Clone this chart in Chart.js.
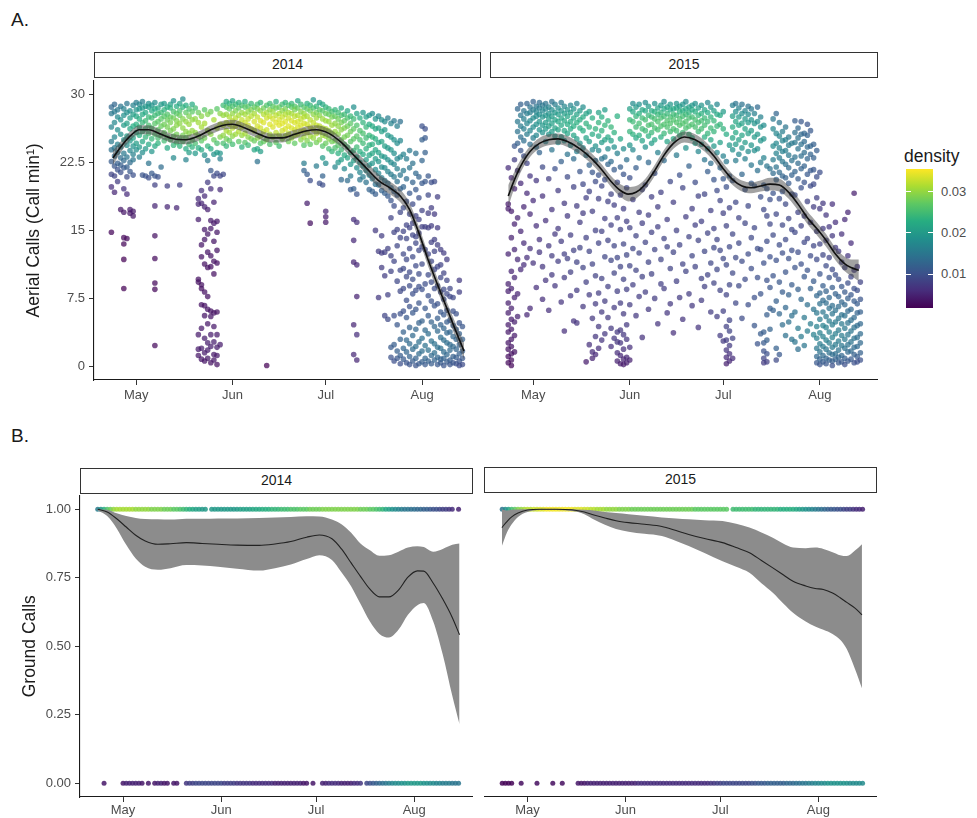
<!DOCTYPE html>
<html>
<head>
<meta charset="utf-8">
<script src="https://cdn.jsdelivr.net/npm/chart.js@4/dist/chart.umd.min.js"></script>
<style>
  body { margin: 0; background: #fff; font-family: 'Liberation Sans', Arial, sans-serif; }
  #page { position: relative; width: 977px; height: 818px; overflow: hidden; }
  .abs { position: absolute; }
  .strip { position: absolute; box-sizing: border-box; border: 1.5px solid #333; background: #fff;
           font-size: 14px; color: #1a1a1a; text-align: center; }
  .tag { position: absolute; font-size: 19px; color: #1a1a1a; }
</style>
</head>
<body>
<div id="page">
  <div class="tag" style="left:11px; top:9px;">A.</div>
  <div class="tag" style="left:11px; top:425px;">B.</div>

  <div class="strip" style="left:94px; top:52px; width:387px; height:26px; line-height:23px;">2014</div>
  <div class="strip" style="left:490px; top:52px; width:388px; height:26px; line-height:23px;">2015</div>
  <div class="strip" style="left:80px; top:468px; width:393px; height:26px; line-height:23px;">2014</div>
  <div class="strip" style="left:484px; top:467px; width:393px; height:26px; line-height:23px;">2015</div>

  <canvas id="a14" class="abs" width="482" height="332" style="left:0; top:78px;"></canvas>
  <canvas id="a15" class="abs" width="392" height="332" style="left:488px; top:78px;"></canvas>
  <canvas id="b14" class="abs" width="475" height="325" style="left:0; top:493px;"></canvas>
  <canvas id="b15" class="abs" width="397" height="325" style="left:482px; top:493px;"></canvas>

  <div id="legend"></div>
</div>
<script>
// ---- axes ----
const monthTicks = [0, 31, 61, 92];          // days after 1 May
const monthLabels = ['May', 'Jun', 'Jul', 'Aug'];
const aerialTicks = [0, 7.5, 15, 22.5, 30];
const groundTicks = [0, 0.25, 0.5, 0.75, 1];
const densityTicks = [0.01, 0.02, 0.03];
const densityLimits = [0.0018, 0.0355];
const peakDensity2014 = 0.034;               // brightest colour in the 2014 aerial panel
const peakDensity2015 = 0.026;               // brightest colour in the 2015 aerial panel

// ---- aerial calls: [day, calls, calls, ...] ----
const aerial2014 = [
  [-8, 28.6, 27.9, 26.4, 24.8, 23.9, 22.6, 21.2, 19.8, 14.8],
  [-7, 28.9, 28.1, 26.9, 25.3, 24.1, 23.2, 22.1, 21.0, 19.2],
  [-6, 28.3, 27.5, 26.1, 24.5, 23.6, 22.4, 21.7, 20.4],
  [-5, 28.7, 27.2, 25.6, 24.2, 23.0, 22.2, 21.4, 17.3],
  [-4, 28.4, 27.7, 26.6, 25.0, 23.5, 22.7, 21.9, 19.6, 17.0, 14.2, 13.5, 11.8, 8.6],
  [-3, 29.0, 28.0, 26.8, 25.4, 24.4, 23.1, 22.0, 20.9, 19.0, 14.1],
  [-2, 28.2, 27.4, 26.2, 24.9, 23.8, 22.5, 21.5, 17.3, 16.9],
  [-1, 28.8, 27.8, 26.5, 25.2, 24.3, 23.4, 22.8, 21.1, 17.1, 16.6],
  [0, 29.1, 28.3, 27.6, 26.7, 25.8, 24.6, 23.9],
  [1, 28.9, 28.4, 27.3, 26.4, 25.5, 24.2, 23.1],
  [2, 29.2, 28.5, 27.8, 26.9, 25.9, 24.8, 23.6, 21.1],
  [3, 28.7, 28.0, 27.1, 26.2, 25.3, 24.0, 21.0],
  [4, 29.0, 28.6, 27.5, 26.6, 25.7, 24.5, 22.4, 20.8],
  [5, 28.8, 28.2, 27.4, 26.3, 25.1, 23.7, 21.3],
  [6, 29.1, 28.4, 27.7, 26.8, 25.6, 24.3, 21.0, 20.0, 17.7, 14.4, 11.9, 9.2, 8.5, 2.3],
  [7, 28.5, 27.9, 27.0, 26.1, 25.2, 24.6, 20.9],
  [8, 28.9, 28.0, 27.3, 26.5, 25.5, 22.0],
  [9, 29.0, 28.3, 27.6, 26.7, 25.8, 24.9],
  [10, 28.6, 27.8, 27.2, 26.4, 25.3, 24.1, 19.9, 17.6],
  [11, 28.9, 28.5, 27.5, 26.9, 26.0, 25.0],
  [12, 29.3, 28.1, 27.4, 26.2, 25.4, 24.4, 23.0],
  [13, 28.7, 27.9, 27.1, 26.6, 25.6, 24.7, 17.5],
  [14, 29.0, 28.2, 27.7, 26.8, 25.1, 24.3, 20.0],
  [15, 29.5, 28.6, 27.3, 26.3, 25.5, 24.8],
  [16, 28.8, 28.0, 27.0, 25.9, 25.2, 24.0, 22.8],
  [17, 28.4, 27.6, 26.7, 25.7, 24.5, 23.6],
  [18, 28.9, 28.1, 27.2, 26.0, 25.0, 24.2],
  [19, 28.5, 27.3, 25.8, 24.6, 23.5],
  [20, 28.0, 26.9, 25.4, 24.1, 18.5, 17.9, 16.2, 9.6, 9.3, 3.5, 1.9, 1.2],
  [21, 27.6, 26.4, 24.9, 23.9, 19.4, 18.0, 13.4, 12.1, 9.0, 8.6, 6.8, 4.2, 2.0, 0.8],
  [22, 28.3, 26.8, 25.2, 23.3, 18.8, 17.6, 15.1, 14.0, 11.3, 8.2, 6.7, 5.6, 3.1, 1.5, 0.6],
  [23, 27.8, 26.0, 24.3, 22.7, 20.3, 17.3, 14.6, 12.6, 10.9, 7.7, 6.3, 4.7, 2.6, 1.8, 0.9],
  [24, 28.1, 25.6, 24.0, 21.6, 19.6, 16.1, 15.2, 12.2, 11.0, 6.1, 5.5, 3.5, 2.2, 0.4],
  [25, 27.2, 25.0, 23.4, 21.0, 18.1, 15.8, 13.8, 11.6, 10.2, 5.9, 4.4, 2.7, 1.3, 0.7],
  [26, 28.4, 26.3, 24.6, 23.6, 21.3, 16.0, 14.8, 12.8, 11.4, 6.0, 3.5, 2.1, 1.2, 0.2],
  [27, 27.9, 26.7, 25.3, 23.5, 22.9, 21.0, 19.5, 2.4],
  [28, 28.8, 27.7, 26.6, 25.5, 24.6, 21.2],
  [29, 29.2, 28.6, 27.8, 26.9, 26.0, 25.1, 24.3],
  [30, 29.0, 28.4, 27.5, 26.7, 25.8, 24.9],
  [31, 29.3, 28.7, 27.9, 27.1, 26.3, 25.4, 24.5],
  [32, 28.9, 28.2, 27.4, 26.5, 25.6],
  [33, 29.1, 28.5, 27.7, 26.8, 25.9, 24.8],
  [34, 28.8, 28.0, 27.2, 26.4, 25.5, 24.2],
  [35, 29.2, 28.6, 27.8, 26.9, 25.7, 24.7],
  [36, 28.7, 28.1, 27.3, 26.6, 25.3, 24.4],
  [37, 29.0, 28.3, 27.6, 26.2, 25.1],
  [38, 28.6, 27.9, 27.0, 26.0, 24.9, 23.9],
  [39, 28.9, 28.4, 27.5, 26.5, 25.2, 24.0, 22.6],
  [40, 29.1, 28.2, 27.1, 26.3, 25.4, 24.6, 23.7],
  [41, 28.5, 27.8, 26.9, 25.9, 24.8],
  [42, 28.8, 28.0, 27.4, 26.1, 25.0, 0.1],
  [43, 29.0, 28.3, 27.6, 26.7, 25.6, 24.5],
  [44, 28.7, 28.1, 27.3, 26.4, 25.3],
  [45, 29.2, 28.5, 27.7, 26.9, 25.8, 24.7],
  [46, 28.6, 27.9, 27.2, 26.6, 25.5, 24.3],
  [47, 28.9, 28.2, 27.5, 26.8, 26.0, 25.1],
  [48, 29.1, 28.4, 27.8, 27.0, 26.2, 25.4],
  [49, 28.8, 28.0, 27.4, 26.5, 25.7, 24.8],
  [50, 29.0, 28.6, 27.9, 27.1, 26.3, 25.2],
  [51, 28.7, 28.3, 27.6, 26.9, 26.1, 25.5, 24.6],
  [52, 29.3, 28.5, 27.7, 27.0, 26.4, 25.6],
  [53, 28.9, 28.1, 27.3, 26.6, 25.9, 25.0],
  [54, 28.6, 27.9, 27.5, 26.8, 26.0, 25.3, 24.4, 22.4, 21.6],
  [55, 29.0, 28.4, 27.6, 26.7, 25.8, 24.9, 21.2, 18.0],
  [56, 28.8, 28.2, 27.2, 26.4, 25.4, 24.5, 20.5, 15.8],
  [57, 29.4, 28.5, 27.8, 26.9, 26.1, 25.2],
  [58, 28.7, 28.0, 27.4, 26.6, 25.7, 24.7, 22.1],
  [59, 29.1, 28.3, 27.7, 26.5, 25.9, 25.0, 20.2],
  [60, 28.9, 28.2, 27.3, 26.3, 25.5, 24.3, 23.0, 21.0, 20.0],
  [61, 28.6, 27.9, 27.1, 26.2, 25.4, 24.6, 22.4, 17.1, 16.5, 15.9],
  [62, 28.4, 27.8, 27.0, 26.0, 25.1, 24.0],
  [63, 28.1, 27.5, 26.6, 25.7, 24.8, 23.7],
  [64, 28.3, 27.6, 26.8, 25.9, 24.9, 24.1, 22.0],
  [65, 28.0, 27.3, 26.5, 25.6, 24.4, 23.5, 22.5],
  [66, 28.5, 27.7, 26.9, 26.1, 25.0, 23.9, 22.8, 20.6],
  [67, 27.8, 27.1, 26.3, 25.3, 24.5, 23.3, 21.8],
  [68, 28.2, 27.4, 26.5, 25.5, 24.2, 23.0, 20.5],
  [69, 27.6, 26.8, 25.9, 24.8, 23.6, 22.3, 21.0, 19.5],
  [70, 28.6, 27.3, 26.2, 25.1, 23.8, 22.7, 19.6, 16.2, 13.9, 11.5, 4.6, 1.3],
  [71, 27.9, 26.6, 25.4, 24.2, 23.1, 21.9, 19.0, 15.9, 11.2, 7.7, 3.5, 0.7],
  [72, 27.4, 26.0, 25.0, 23.7, 22.5, 21.4, 20.6],
  [73, 28.0, 26.9, 25.7, 24.6, 23.4, 22.1, 20.9],
  [74, 27.5, 26.4, 25.2, 24.0, 22.8, 21.6, 20.3],
  [75, 27.7, 26.7, 25.5, 24.4, 23.3, 22.2, 21.1, 19.5],
  [76, 27.9, 26.5, 25.3, 24.5, 23.5, 22.4, 20.7, 19.3],
  [77, 27.3, 26.2, 25.1, 23.9, 22.9, 21.7, 20.1, 19.0, 15.0],
  [78, 27.6, 26.3, 24.7, 23.6, 22.6, 21.3, 20.0, 12.7, 7.6],
  [79, 27.2, 25.9, 24.8, 23.2, 22.0, 20.8, 19.4, 14.4, 12.5, 10.9],
  [80, 27.0, 26.1, 24.3, 23.1, 21.9, 20.5, 19.1, 12.6, 10.0, 5.6],
  [81, 27.4, 25.5, 24.1, 22.8, 21.5, 20.2, 18.8, 13.0, 7.9, 5.2],
  [82, 26.8, 25.3, 23.9, 22.5, 21.2, 19.7, 18.3, 16.4, 12.2, 10.5, 2.1, 1.0],
  [83, 27.1, 25.0, 23.5, 22.3, 20.9, 19.3, 17.7, 14.8, 11.6, 5.6, 2.4, 0.6],
  [84, 26.5, 24.6, 22.9, 21.8, 20.4, 18.9, 15.1, 13.3, 9.4, 4.6, 1.7, 0.9],
  [85, 27.0, 24.9, 23.1, 21.1, 19.6, 17.0, 14.2, 10.6, 8.3, 5.8, 3.0, 1.2, 0.3],
  [86, 23.4, 21.6, 19.8, 17.5, 14.9, 12.4, 10.8, 8.6, 6.1, 3.8, 2.0, 0.8],
  [87, 22.9, 20.7, 18.2, 15.6, 14.1, 11.8, 9.9, 7.3, 5.4, 2.9, 1.6, 0.4],
  [88, 23.8, 21.9, 19.1, 16.8, 15.3, 13.0, 10.4, 8.9, 6.6, 4.3, 2.5, 1.1, 0.2],
  [89, 22.4, 20.3, 17.9, 15.8, 14.5, 12.1, 9.6, 8.0, 5.9, 3.4, 1.9, 0.6],
  [90, 23.5, 21.3, 19.5, 16.6, 14.3, 13.6, 11.1, 8.4, 6.3, 4.1, 2.2, 0.9, 0.1],
  [91, 20.9, 18.6, 16.2, 14.7, 12.8, 10.2, 8.8, 7.0, 4.8, 2.7, 1.4, 0.3],
  [92, 26.5, 25.0, 22.7, 20.2, 17.2, 15.4, 13.2, 11.3, 8.5, 5.0, 3.1, 1.7, 0.5],
  [93, 26.2, 25.2, 23.6, 20.4, 15.4, 12.9, 9.1, 6.4, 4.0, 2.3, 0.9, 0.2],
  [94, 21.0, 18.9, 16.9, 15.3, 12.4, 10.1, 7.8, 5.6, 3.6, 1.8, 0.6],
  [95, 20.3, 17.5, 15.5, 13.7, 11.6, 9.3, 7.2, 4.9, 2.8, 1.2, 0.3],
  [96, 20.4, 16.8, 14.0, 12.7, 10.7, 8.6, 6.7, 4.4, 2.5, 1.5, 0.7],
  [97, 18.7, 15.3, 13.4, 11.0, 8.9, 6.9, 5.3, 3.9, 2.1, 1.0, 0.2],
  [98, 12.9, 11.2, 9.8, 8.2, 6.0, 4.6, 3.2, 2.0, 0.8, 0.4],
  [99, 12.5, 10.3, 8.5, 7.4, 5.7, 4.2, 2.9, 1.6, 0.9, 0.1],
  [100, 11.8, 9.5, 8.0, 6.2, 4.9, 3.7, 2.6, 1.3, 0.5],
  [101, 8.6, 7.7, 5.1, 3.8, 2.4, 1.8, 0.7, 0.2],
  [102, 7.6, 6.1, 4.5, 3.3, 2.2, 1.1, 0.4],
  [103, 5.8, 4.1, 3.0, 1.9, 1.0, 0.3],
  [104, 9.5, 8.2, 4.8, 3.6, 2.4, 1.4, 0.6, 0.1],
  [105, 4.4, 3.0, 1.7, 0.9, 0.2]
];

const aerial2015 = [
  [-8, 21.9, 17.9, 17.4, 12.4, 9.1, 8.3, 7.0, 5.9, 4.6, 3.8, 2.6, 1.9, 1.1, 0.4],
  [-7, 20.8, 17.1, 14.2, 10.5, 8.6, 6.4, 5.2, 4.1, 3.0, 2.2, 1.4, 0.7, 0.1],
  [-6, 24.3, 22.8, 19.6, 15.7, 12.9, 9.8, 7.6, 4.9, 3.4, 1.6],
  [-5, 28.4, 27.0, 25.9, 24.6, 21.6, 16.4, 11.8, 8.0, 5.5],
  [-4, 28.9, 27.7, 26.5, 25.3, 23.8, 20.2, 14.9, 10.7],
  [-3, 28.2, 27.3, 26.2, 24.9, 23.2, 17.6, 13.6, 11.2],
  [-2, 29.0, 27.9, 26.8, 25.6, 22.4, 19.1, 12.0, 5.7],
  [-1, 28.6, 28.0, 27.1, 26.0, 24.5, 21.0, 16.8, 13.0, 6.4],
  [0, 29.2, 28.3, 27.4, 26.4, 25.2, 18.3, 11.4],
  [1, 28.7, 28.1, 27.6, 26.7, 25.5, 24.2, 20.5, 15.5, 8.7],
  [2, 29.1, 28.5, 27.8, 27.0, 26.1, 23.6, 14.0, 12.6],
  [3, 28.8, 28.2, 27.5, 26.6, 25.8, 22.0, 18.8, 11.0, 7.4],
  [4, 29.0, 28.4, 27.7, 26.9, 26.2, 24.8, 16.1, 9.5],
  [5, 28.6, 27.9, 27.3, 26.5, 25.6, 20.7, 13.3, 6.2],
  [6, 29.2, 28.3, 27.6, 26.8, 25.9, 23.9, 17.3, 12.2, 10.1],
  [7, 28.9, 28.0, 27.2, 26.3, 25.4, 21.8, 14.6, 8.9],
  [8, 28.5, 27.8, 27.0, 26.1, 24.7, 19.4, 15.2, 11.6],
  [9, 29.1, 28.2, 27.4, 26.6, 25.3, 22.6, 13.8, 7.1],
  [10, 28.7, 27.9, 27.1, 26.0, 24.9, 18.0, 12.4, 9.8, 3.9],
  [11, 28.3, 27.6, 26.7, 25.7, 23.4, 20.9, 16.6, 11.9],
  [12, 28.8, 28.0, 27.0, 26.2, 24.4, 14.5, 10.4, 7.8],
  [13, 28.4, 27.4, 26.5, 25.5, 22.9, 19.8, 12.8, 5.0],
  [14, 29.0, 27.8, 26.9, 25.1, 23.7, 17.7, 11.5, 8.4, 4.8],
  [15, 28.2, 27.2, 26.3, 24.6, 21.5, 15.9, 13.1],
  [16, 28.6, 27.5, 26.0, 24.1, 20.1, 16.9, 10.9, 6.6],
  [17, 27.9, 26.8, 25.2, 23.3, 18.6, 14.2, 9.3, 0.5],
  [18, 28.1, 26.4, 24.8, 22.2, 19.3, 12.7, 7.9, 2.4],
  [19, 27.4, 25.6, 23.9, 21.4, 17.1, 11.3, 5.3, 1.6, 0.9],
  [20, 26.2, 24.3, 22.7, 20.4, 15.0, 10.0, 6.9, 3.3, 1.3],
  [21, 28.0, 26.9, 25.4, 23.8, 21.1, 18.5, 13.6, 8.1, 4.4, 2.0],
  [22, 27.5, 26.0, 24.7, 22.9, 19.9, 14.9, 9.7, 6.0, 2.9],
  [23, 28.3, 26.6, 25.0, 23.1, 20.6, 16.3, 12.1, 7.2, 3.6],
  [24, 27.1, 25.3, 24.0, 22.3, 18.2, 13.9, 8.8, 5.4],
  [25, 26.4, 24.9, 22.6, 19.0, 15.6, 11.7, 4.2, 2.2],
  [26, 25.8, 24.2, 21.7, 17.8, 13.3, 10.3, 6.5, 3.1],
  [27, 27.6, 23.5, 20.3, 16.4, 12.0, 8.3, 3.8, 2.7, 1.5, 0.6],
  [28, 25.1, 22.0, 18.9, 15.1, 11.0, 7.0, 4.0, 2.6, 1.2, 0.3],
  [29, 24.0, 21.2, 17.4, 13.5, 9.6, 5.8, 3.5, 1.9, 0.8, 0.2],
  [30, 22.8, 19.7, 16.0, 12.3, 8.5, 4.6, 3.0, 1.0, 0.4],
  [31, 28.4, 27.2, 25.9, 24.4, 20.8, 15.3, 11.1, 6.8, 2.1, 0.7],
  [32, 29.0, 28.1, 27.0, 25.6, 23.9, 18.4, 13.0, 9.0],
  [33, 28.6, 27.6, 26.4, 25.2, 21.9, 14.4, 10.6, 5.6],
  [34, 28.9, 27.9, 26.8, 25.5, 23.0, 17.0, 12.5, 7.7],
  [35, 28.3, 27.4, 26.2, 24.9, 19.5, 15.8, 9.9, 3.2],
  [36, 29.1, 28.2, 27.2, 26.0, 24.2, 20.0, 13.7, 8.2],
  [37, 28.7, 27.7, 26.6, 25.4, 22.5, 16.7, 11.5, 6.3],
  [38, 28.2, 27.5, 26.7, 25.8, 24.6, 18.7, 14.8, 10.2],
  [39, 29.0, 28.1, 27.3, 26.3, 25.0, 21.3, 12.9, 7.5],
  [40, 28.5, 27.8, 27.0, 26.1, 23.6, 17.6, 15.4, 4.7],
  [41, 28.8, 28.0, 27.4, 26.5, 25.3, 19.2, 11.8, 9.1],
  [42, 29.2, 28.4, 27.6, 26.7, 25.7, 22.7, 14.1, 8.6],
  [43, 28.6, 27.9, 27.1, 26.4, 24.8, 16.2, 13.2, 5.9],
  [44, 28.9, 28.3, 27.5, 26.8, 25.9, 20.4, 10.8, 6.9],
  [45, 28.4, 27.8, 27.2, 26.2, 25.1, 18.1, 12.6, 3.7],
  [46, 29.0, 28.5, 27.7, 26.9, 26.0, 23.3, 15.0, 9.4],
  [47, 28.7, 28.1, 27.3, 26.6, 25.5, 21.1, 13.4, 7.6],
  [48, 28.9, 28.2, 27.6, 26.8, 25.8, 19.7, 11.3, 5.2],
  [49, 29.2, 28.4, 27.8, 27.0, 26.3, 24.1, 16.5, 10.5],
  [50, 28.6, 28.0, 27.4, 26.5, 25.6, 22.1, 14.3, 8.0],
  [51, 28.8, 28.3, 27.5, 26.7, 25.2, 17.4, 12.2, 6.7],
  [52, 29.0, 28.1, 27.2, 26.4, 24.6, 20.3, 15.6, 11.0],
  [53, 28.5, 27.7, 26.9, 25.9, 23.7, 18.8, 13.9, 4.3],
  [54, 28.8, 27.9, 27.1, 26.2, 24.5, 16.0, 9.7, 7.3],
  [55, 28.3, 27.4, 26.6, 25.3, 22.8, 19.0, 12.7, 8.8],
  [56, 29.1, 28.0, 27.0, 25.7, 24.0, 21.5, 14.7, 10.1],
  [57, 28.6, 27.5, 26.3, 25.0, 22.4, 17.2, 11.4, 6.0],
  [58, 28.2, 27.1, 25.9, 24.3, 20.6, 15.2, 13.1, 9.2],
  [59, 28.9, 27.8, 26.5, 23.6, 19.4, 14.0, 10.7, 5.5],
  [60, 27.7, 26.7, 24.7, 21.9, 18.3, 12.8, 8.4, 3.4],
  [61, 28.1, 26.2, 23.2, 20.7, 16.9, 11.9, 6.1, 2.8],
  [62, 25.6, 22.6, 19.8, 15.5, 11.2, 7.9, 4.4, 2.9, 1.8, 1.0, 0.3],
  [63, 24.4, 21.0, 17.5, 13.2, 9.0, 5.1, 3.9, 2.3, 1.4, 0.6],
  [64, 28.8, 27.6, 26.4, 25.2, 23.9, 20.5, 14.6, 10.3, 3.1, 0.9],
  [65, 29.0, 28.1, 27.0, 25.8, 24.5, 22.7, 18.1, 12.0, 7.0],
  [66, 28.5, 27.5, 26.6, 25.0, 23.4, 16.4, 13.6, 8.9],
  [67, 28.9, 27.9, 26.8, 25.5, 24.1, 21.2, 11.6, 5.3],
  [68, 28.2, 27.3, 26.2, 24.7, 22.9, 19.5, 15.8, 9.6],
  [69, 28.7, 27.8, 26.9, 25.7, 23.7, 17.7, 12.4, 6.8],
  [70, 28.4, 27.2, 26.0, 24.4, 22.2, 20.2, 14.2, 10.8],
  [71, 27.9, 26.8, 25.3, 23.8, 19.9, 15.3, 7.6, 4.5],
  [72, 28.6, 27.0, 25.6, 24.0, 21.6, 13.0, 9.8, 2.5],
  [73, 27.5, 26.4, 24.9, 22.5, 18.7, 12.9, 8.0, 3.6],
  [74, 26.6, 25.1, 23.0, 20.0, 17.3, 11.4, 3.8, 2.6, 1.7, 0.9, 0.4],
  [75, 22.1, 19.6, 16.6, 13.8, 9.5, 5.7, 2.9, 1.4, 0.5],
  [76, 21.8, 18.4, 15.7, 12.1, 8.7, 6.4, 4.1],
  [77, 27.3, 26.2, 24.3, 22.8, 21.3, 19.1, 14.5, 10.0, 6.2],
  [78, 27.9, 25.7, 24.6, 23.5, 22.0, 20.6, 16.8, 11.7, 7.2, 2.0, 0.7],
  [79, 26.9, 25.4, 24.1, 23.0, 21.4, 18.5, 13.4, 9.3, 5.8, 1.3],
  [80, 25.9, 24.9, 23.7, 22.6, 21.0, 19.3, 15.6, 12.5, 8.2, 4.6],
  [81, 26.4, 25.0, 23.8, 22.3, 20.8, 17.9, 14.0, 10.4, 6.5, 3.4],
  [82, 25.3, 24.4, 23.3, 21.9, 20.2, 16.3, 11.9, 7.9, 4.9],
  [83, 24.6, 22.7, 21.1, 19.0, 15.1, 12.8, 9.0, 5.6, 3.0],
  [84, 27.1, 25.8, 24.7, 23.1, 21.5, 18.9, 14.8, 10.9, 6.0, 2.7],
  [85, 26.3, 25.2, 24.0, 22.4, 20.7, 17.0, 12.6, 8.5, 4.2, 1.9],
  [86, 27.0, 25.6, 24.5, 23.2, 21.8, 19.7, 15.5, 11.3, 7.4, 3.3],
  [87, 25.7, 24.8, 23.6, 22.1, 20.3, 16.6, 13.7, 9.9, 5.4, 2.3],
  [88, 26.7, 25.5, 24.2, 22.9, 21.2, 18.2, 14.1, 10.6, 6.8, 3.9],
  [89, 26.0, 24.3, 23.4, 21.6, 19.9, 15.9, 12.2, 8.6, 4.7],
  [90, 24.5, 23.0, 21.7, 20.1, 17.6, 13.3, 9.4, 6.3, 3.5],
  [91, 23.8, 20.9, 18.6, 14.9, 11.8, 7.8, 5.9, 4.4, 3.1, 2.0, 1.1, 0.4],
  [92, 21.4, 17.4, 13.5, 10.2, 8.1, 6.9, 5.2, 3.7, 2.5, 1.6, 0.8, 0.2],
  [93, 18.0, 15.2, 12.3, 8.9, 7.3, 6.0, 4.5, 3.3, 2.2, 1.2, 0.5],
  [94, 16.7, 13.9, 11.1, 8.3, 7.0, 5.5, 4.3, 2.9, 1.9, 0.9, 0.3],
  [95, 15.4, 12.0, 9.8, 7.6, 6.4, 5.0, 3.8, 2.6, 1.5, 0.7],
  [96, 17.9, 14.4, 10.7, 8.7, 6.7, 5.8, 4.6, 3.2, 2.1, 1.3, 0.6, 0.1],
  [97, 15.9, 13.1, 10.1, 8.0, 6.2, 4.9, 3.6, 2.4, 1.4, 0.8],
  [98, 12.7, 9.6, 7.7, 6.6, 5.3, 4.0, 2.8, 1.8, 1.0, 0.4],
  [99, 14.6, 11.5, 8.8, 7.1, 5.7, 4.7, 3.4, 2.3, 1.2, 0.5],
  [100, 16.2, 10.9, 8.2, 6.8, 5.6, 4.2, 3.0, 2.0, 0.9, 0.2],
  [101, 17.0, 12.2, 9.2, 7.5, 6.1, 4.8, 3.5, 2.4, 1.6, 0.6],
  [102, 13.6, 9.9, 7.9, 6.3, 5.1, 3.9, 2.7, 1.7, 0.8],
  [103, 19.1, 10.6, 8.6, 7.2, 5.4, 4.3, 3.1, 2.1, 1.3, 0.4],
  [104, 11.0, 8.4, 6.9, 5.9, 4.5, 3.2, 2.2, 1.1, 0.5],
  [105, 9.3, 7.4, 6.0, 4.7, 3.6, 2.6, 1.5, 0.7]
];

// ---- smoothers: [day, fit, lower, upper] ----
const aerialSmooth2014 = [
  [-7.5, 23.0, 22.2, 23.8], [-5, 24.2, 23.6, 24.8], [-2, 25.4, 24.9, 25.9], [1, 26.1, 25.6, 26.6],
  [4, 26.1, 25.6, 26.6], [8, 25.6, 25.1, 26.1], [12, 25.1, 24.6, 25.6], [16, 25.0, 24.5, 25.5],
  [20, 25.4, 24.9, 25.9], [24, 26.1, 25.6, 26.6], [28, 26.6, 26.1, 27.1], [31, 26.7, 26.2, 27.2],
  [35, 26.3, 25.8, 26.8], [39, 25.7, 25.2, 26.2], [43, 25.2, 24.7, 25.7], [47, 25.2, 24.7, 25.7],
  [51, 25.6, 25.1, 26.1], [55, 26.0, 25.5, 26.5], [58, 26.1, 25.6, 26.6], [62, 25.7, 25.2, 26.2],
  [66, 24.7, 24.2, 25.2], [70, 23.3, 22.7, 23.9], [74, 21.9, 21.2, 22.6], [78, 20.5, 19.8, 21.2],
  [82, 19.6, 18.9, 20.3], [85, 18.8, 18.1, 19.5], [88, 17.3, 16.6, 18.0], [91, 14.7, 14.0, 15.4],
  [94, 11.7, 11.0, 12.4], [97, 9.0, 8.3, 9.7], [100, 6.4, 5.7, 7.1], [103, 3.8, 3.0, 4.6],
  [105.5, 1.7, 0.8, 2.6]
];
const aerialSmooth2015 = [
  [-8, 18.8, 17.6, 20.0], [-6, 20.6, 19.7, 21.5], [-4, 22.1, 21.4, 22.8], [-1, 23.7, 23.1, 24.3],
  [2, 24.6, 24.0, 25.2], [5, 25.0, 24.4, 25.6], [8, 25.1, 24.5, 25.7], [11, 24.8, 24.2, 25.4],
  [15, 24.0, 23.4, 24.6], [18.5, 23.0, 22.4, 23.6], [22, 21.7, 21.1, 22.3], [25, 20.4, 19.8, 21.0],
  [28, 19.4, 18.7, 20.1], [30.5, 19.0, 18.2, 19.8], [33, 19.2, 18.5, 19.9], [36, 20.1, 19.5, 20.7],
  [39, 21.6, 21.0, 22.2], [42, 23.3, 22.7, 23.9], [45, 24.6, 24.0, 25.2], [48.5, 25.3, 24.7, 25.9],
  [52, 25.0, 24.4, 25.6], [55, 24.3, 23.7, 24.9], [58, 23.2, 22.6, 23.8], [61, 21.8, 21.2, 22.4],
  [64, 20.6, 20.0, 21.2], [67, 19.9, 19.3, 20.5], [70, 19.7, 19.1, 20.3], [73, 19.9, 19.3, 20.5],
  [76, 20.1, 19.4, 20.8], [79, 20.0, 19.3, 20.7], [82, 19.2, 18.5, 19.9], [85, 17.9, 17.2, 18.6],
  [88, 16.4, 15.7, 17.1], [91, 15.2, 14.5, 15.9], [94, 13.9, 13.2, 14.6], [97, 12.4, 11.7, 13.1],
  [100, 11.3, 10.5, 12.1], [102, 10.9, 10.0, 11.8], [104.5, 10.6, 9.4, 11.8]
];
const groundSmooth2014 = [
  [-8, 1.0, 0.995, 1.0], [-5, 0.99, 0.975, 0.998], [-2, 0.965, 0.93, 0.985], [1, 0.935, 0.87, 0.975],
  [4, 0.905, 0.82, 0.968], [7, 0.884, 0.79, 0.964], [11, 0.872, 0.779, 0.963], [15, 0.874, 0.785, 0.962],
  [20, 0.878, 0.796, 0.965], [25, 0.875, 0.795, 0.965], [30, 0.872, 0.79, 0.966], [36, 0.869, 0.783, 0.966],
  [43, 0.868, 0.776, 0.968], [48, 0.873, 0.785, 0.97], [53, 0.882, 0.798, 0.972], [58, 0.898, 0.818, 0.974],
  [62, 0.906, 0.832, 0.973], [66, 0.892, 0.815, 0.962], [69, 0.855, 0.77, 0.945], [72, 0.805, 0.72, 0.915],
  [75, 0.755, 0.655, 0.875], [78, 0.708, 0.59, 0.85], [81, 0.68, 0.545, 0.83], [84, 0.68, 0.532, 0.832],
  [87, 0.705, 0.56, 0.845], [90, 0.752, 0.615, 0.86], [93, 0.775, 0.65, 0.865], [95, 0.774, 0.658, 0.862],
  [98, 0.73, 0.59, 0.845], [101, 0.672, 0.47, 0.855], [104, 0.605, 0.32, 0.87], [106.3, 0.542, 0.215, 0.875]
];
const groundSmooth2015 = [
  [-8.1, 0.933, 0.866, 1.0], [-6.5, 0.955, 0.915, 0.995], [-5, 0.972, 0.945, 0.998], [-3, 0.986, 0.972, 0.999],
  [0, 0.997, 0.99, 1.0], [4, 1.0, 0.997, 1.0], [9, 1.0, 0.997, 1.0], [14, 0.998, 0.993, 1.0],
  [18, 0.99, 0.982, 0.998], [21, 0.979, 0.962, 0.995], [24.5, 0.968, 0.943, 0.99], [28, 0.958, 0.928, 0.986],
  [32, 0.951, 0.918, 0.982], [37, 0.945, 0.91, 0.976], [42.5, 0.937, 0.902, 0.97], [47, 0.922, 0.884, 0.966],
  [51, 0.908, 0.866, 0.963], [56, 0.893, 0.84, 0.96], [61.7, 0.878, 0.81, 0.957], [66, 0.86, 0.79, 0.947],
  [70.2, 0.841, 0.768, 0.933], [74, 0.813, 0.73, 0.915], [77.6, 0.786, 0.695, 0.896], [81, 0.76, 0.655, 0.874],
  [84, 0.737, 0.622, 0.86], [88, 0.72, 0.59, 0.858], [91, 0.711, 0.572, 0.86], [93.6, 0.707, 0.56, 0.855],
  [96.5, 0.694, 0.545, 0.843], [98.9, 0.677, 0.524, 0.832], [101, 0.66, 0.49, 0.829], [103.5, 0.64, 0.42, 0.848],
  [105.8, 0.615, 0.347, 0.872]
];

// ---- ground calls (1 = yes, 0 = no): [day, density read from colour] ----
const groundYes2014 = [
  [-8,.016],[-7,.019],[-6,.023],[-5,.026],[-4,.028],[-3,.030],[-2,.031],[-1,.031],[0,.031],[1,.031],[2,.031],[3,.031],
  [4,.030],[5,.030],[6,.030],[7,.030],[8,.030],[9,.029],[10,.029],[11,.029],[12,.029],[13,.028],[14,.028],[15,.028],
  [16,.027],[17,.027],[18,.026],[19,.025],[20,.024],[21,.023],[22,.022],[23,.021],[24,.021],[25,.020],[26,.020],
  [28,.020],[29,.020],[30,.020],[31,.020],[32,.020],[33,.020],[34,.020],[35,.020],[36,.020],[37,.021],[38,.021],
  [39,.021],[40,.021],[41,.022],[42,.022],[43,.022],[44,.023],[45,.023],[46,.023],[47,.024],[48,.024],[49,.024],
  [50,.025],[51,.025],[52,.025],[53,.026],[54,.026],[55,.026],[56,.027],[57,.027],[58,.027],[59,.028],[60,.028],
  [61,.028],[62,.028],[63,.029],[64,.029],[65,.029],[66,.029],[67,.029],[68,.029],[69,.029],[70,.029],[71,.029],
  [72,.029],[73,.029],[74,.029],[75,.028],[76,.028],[77,.028],[78,.027],[79,.027],[80,.026],[81,.025],[82,.024],
  [83,.022],[84,.021],[85,.019],[86,.018],[87,.017],[88,.016],[89,.015],[90,.015],[91,.014],[92,.014],[93,.013],
  [94,.013],[95,.012],[96,.012],[97,.011],[98,.010],[99,.010],[100,.009],[101,.008],[102,.008],[103,.007],
  [104,.006],[106,.005]
];
const groundNo2014 = [
  [-6,.004],[0,.004],[1,.005],[2,.005],[3,.005],[4,.005],[5,.005],[6,.004],[8,.004],[10,.004],[11,.005],[12,.005],
  [13,.004],[14,.004],[16,.004],[17,.004],
  [20,.007],[21,.008],[22,.008],[23,.009],[24,.009],[25,.009],[26,.009],[27,.009],[28,.009],[29,.009],[30,.009],
  [31,.009],[32,.008],[33,.008],[34,.008],[35,.008],[36,.007],[37,.007],[38,.007],[39,.007],[40,.007],[41,.006],
  [42,.006],[43,.006],[44,.006],[45,.006],[46,.006],[47,.006],[48,.005],[49,.005],[50,.005],[51,.005],[52,.005],
  [53,.005],[54,.005],[55,.005],[56,.005],[57,.004],[58,.004],[60,.004],
  [63,.005],[64,.005],[65,.006],[66,.006],[67,.006],[68,.006],[69,.005],[70,.005],[71,.005],[72,.005],[73,.006],
  [74,.006],[75,.007],
  [77,.009],[78,.010],[79,.011],[80,.012],[81,.013],[82,.014],[83,.015],[84,.016],[85,.017],[86,.018],[87,.018],
  [88,.019],[89,.019],[90,.020],[91,.020],[92,.020],[93,.020],[94,.020],[95,.019],[96,.019],[97,.018],[98,.018],
  [99,.017],[100,.017],[101,.016],[102,.016],[103,.016],[104,.015],[105,.015],[106,.015]
];
const groundYes2015 = [
  [-8,.015],[-7,.018],[-6,.021],[-5,.025],[-4,.027],[-3,.029],[-2,.030],[-1,.031],[0,.032],[1,.032],[2,.033],
  [3,.033],[4,.034],[5,.034],[6,.035],[7,.035],[8,.035],[9,.035],[10,.035],[11,.035],[12,.035],[13,.035],[14,.035],
  [15,.034],[16,.034],[17,.034],[18,.033],[19,.033],[20,.032],[21,.032],[22,.031],[23,.031],[24,.031],[25,.030],
  [26,.030],[27,.030],[28,.030],[29,.029],[30,.029],[31,.029],[32,.029],[33,.028],[34,.028],[35,.028],[36,.028],
  [37,.028],[38,.028],[39,.028],[40,.028],[41,.028],[42,.028],[43,.028],[44,.028],[45,.028],[46,.028],[47,.028],
  [48,.028],[49,.028],[50,.028],[51,.028],[52,.028],[53,.027],[54,.027],[55,.027],[56,.027],[57,.027],[58,.027],
  [59,.027],[60,.027],[61,.027],[62,.027],[63,.027],
  [65,.025],[66,.025],[67,.025],[68,.025],[69,.025],[70,.025],[71,.025],[72,.024],[73,.024],[74,.024],[75,.024],
  [76,.024],[77,.024],[78,.024],[79,.024],[80,.023],[81,.023],[82,.023],[83,.023],[84,.023],[85,.022],[86,.021],
  [87,.020],[88,.019],[89,.018],[90,.017],[91,.016],[92,.015],[93,.014],[94,.013],[95,.012],[96,.011],[97,.011],
  [98,.010],[99,.010],[100,.009],[101,.008],[102,.008],[103,.007],[104,.006],[105,.006],[106,.005]
];
const groundNo2015 = [
  [-8,.002],[-7,.002],[-6,.002],[-5,.002],[-2,.003],[3,.003],[8,.003],[11,.003],
  [16,.004],[17,.004],[18,.004],[19,.005],[20,.005],[21,.005],[22,.005],[23,.005],[24,.005],[25,.005],[26,.005],
  [27,.005],[28,.005],[29,.005],[30,.005],[31,.005],[32,.005],[33,.005],[34,.005],[35,.006],[36,.006],[37,.006],
  [38,.006],[39,.006],[40,.006],[41,.006],[42,.006],[43,.006],[44,.006],[45,.006],[46,.006],[47,.006],[48,.006],
  [49,.006],[50,.006],[51,.006],[52,.006],[53,.006],[54,.006],[55,.006],[56,.006],[57,.006],[58,.007],[59,.007],
  [60,.008],[61,.008],[62,.009],[63,.009],[64,.009],[65,.009],[66,.009],[67,.009],[68,.009],[69,.009],[70,.009],
  [71,.010],[72,.010],[73,.011],[74,.011],[75,.011],[76,.012],[77,.012],[78,.012],[79,.012],[80,.012],[81,.012],
  [82,.013],[83,.013],[84,.013],[85,.014],[86,.014],[87,.015],[88,.015],[89,.016],[90,.016],[91,.017],[92,.017],
  [93,.018],[94,.018],[95,.019],[96,.019],[97,.019],[98,.019],[99,.019],[100,.019],[101,.019],[102,.018],
  [103,.018],[104,.018],[105,.018],[106,.018]
];

// ---- colours ----
const VIRIDIS = ['#440154', '#472d7b', '#3b528b', '#2c728e', '#21908c', '#27ad81', '#5dc863', '#aadc32', '#fde725'];
const hexRgb = h => [1, 3, 5].map(i => parseInt(h.slice(i, i + 2), 16));
function viridis(t, a) {
  t = Math.min(1, Math.max(0, t));
  const k = t * (VIRIDIS.length - 1);
  const i = Math.min(Math.floor(k), VIRIDIS.length - 2), f = k - i;
  const c0 = hexRgb(VIRIDIS[i]), c1 = hexRgb(VIRIDIS[i + 1]);
  const c = c0.map((v, j) => Math.round(v + (c1[j] - v) * f));
  return `rgba(${c[0]},${c[1]},${c[2]},${a})`;
}
const densColor = (d, a) => viridis((d - densityLimits[0]) / (densityLimits[1] - densityLimits[0]), a);

// 2d gaussian kernel density at each point
function kde(pts, hx, hy) {
  return pts.map(p => {
    let s = 0;
    for (const q of pts) {
      const dx = (p.x - q.x) / hx, dy = (p.y - q.y) / hy;
      s += Math.exp(-0.5 * (dx * dx + dy * dy));
    }
    return s / (pts.length * 2 * Math.PI * hx * hy);
  });
}

function toPoints(groups) {
  const pts = [];
  groups.forEach(g => { for (let i = 1; i < g.length; i++) pts.push({ x: g[0], y: g[i] }); });
  return pts;
}

function densityColours(pts, peak) {
  const raw = kde(pts, 16, 2.2);
  const k = peak / Math.max(...raw);
  return raw.map(d => densColor(d * k, 0.72));
}

const ptsA14 = toPoints(aerial2014), ptsA15 = toPoints(aerial2015);
const colA14 = densityColours(ptsA14, peakDensity2014);
const colA15 = densityColours(ptsA15, peakDensity2015);

function groundPoints(yes, no) {
  const pts = [], col = [];
  yes.forEach(r => { pts.push({ x: r[0], y: 1 }); col.push(densColor(r[1], 0.85)); });
  no.forEach(r => { pts.push({ x: r[0], y: 0 }); col.push(densColor(r[1], 0.85)); });
  return { pts, col };
}
const gB14 = groundPoints(groundYes2014, groundNo2014);
const gB15 = groundPoints(groundYes2015, groundNo2015);

// ---- charts ----
Chart.defaults.font.family = "'Liberation Sans', Arial, sans-serif";
const X_MIN = -13.6, X_MAX = 110.4;

function makePanel(id, o) {
  const smooth = o.smooth;
  const fit = smooth.map(r => ({ x: r[0], y: r[1] }));
  const lo = smooth.map(r => ({ x: r[0], y: r[2] }));
  const hi = smooth.map(r => ({ x: r[0], y: r[3] }));
  const yScale = {
    min: o.yMin, max: o.yMax, display: o.showY,
    afterBuildTicks: s => { s.ticks = o.yTicks.map(v => ({ value: v })); },
    afterFit: s => {
      if (o.showY) s.width = o.yWidth;
      s.paddingTop = 0; s.paddingBottom = 0;
    },
    ticks: { callback: o.yFmt, color: '#4d4d4d', font: { size: 13 }, padding: 4 },
    grid: { display: true, drawOnChartArea: false, drawTicks: true, tickLength: 5, color: '#333' },
    border: { display: true, color: '#1a1a1a', width: 1.1 },
    title: { display: !!o.yTitle, text: o.yTitle, color: '#1a1a1a', font: { size: 17.5 },
             padding: { top: o.titlePad || 0, bottom: 0 } }
  };
  new Chart(document.getElementById(id), {
    type: 'scatter',
    data: {
      datasets: [
        { type: 'line', data: fit, borderColor: o.lineColor, borderWidth: o.lineWidth, pointRadius: 0,
          cubicInterpolationMode: 'monotone', fill: false },
        { type: 'line', data: hi, borderColor: 'rgba(0,0,0,0)', borderWidth: 0, pointRadius: 0,
          cubicInterpolationMode: 'monotone', fill: 2, backgroundColor: o.band },
        { type: 'line', data: lo, borderColor: 'rgba(0,0,0,0)', borderWidth: 0, pointRadius: 0,
          cubicInterpolationMode: 'monotone', fill: false },
        { type: 'scatter', data: o.pts, pointRadius: o.r, pointBackgroundColor: o.colors,
          pointBorderWidth: 0, pointHoverRadius: o.r }
      ]
    },
    options: {
      responsive: false, animation: false,
      layout: { padding: { top: 2, right: 2, left: o.showY ? 0 : 2, bottom: 0 } },
      plugins: { legend: { display: false }, tooltip: { enabled: false } },
      scales: {
        x: {
          type: 'linear', min: X_MIN, max: X_MAX,
          afterBuildTicks: s => { s.ticks = monthTicks.map(v => ({ value: v })); },
          afterFit: s => { s.height = o.xHeight; s.paddingLeft = 0; s.paddingRight = 0; },
          ticks: { callback: (v, i) => monthLabels[i], color: '#4d4d4d', font: { size: 13 }, padding: o.xPad,
                   maxRotation: 0, autoSkip: false },
          grid: { display: true, drawOnChartArea: false, drawTicks: true, tickLength: 5, color: '#333' },
          border: { display: true, color: '#1a1a1a', width: 1.1 }
        },
        y: yScale
      }
    }
  });
}

const aerialCommon = { yMin: -1.5, yMax: 31.5, yTicks: aerialTicks, yFmt: v => String(v), xHeight: 30, xPad: 3,
                       lineColor: '#111', lineWidth: 1.6, band: 'rgba(70,70,70,0.5)', r: 2.8 };
const groundCommon = { yMin: -0.05, yMax: 1.05, yTicks: groundTicks, yFmt: v => v.toFixed(2), xHeight: 21, xPad: 1,
                       lineColor: '#222', lineWidth: 1.1, band: '#8c8c8c', r: 2.5 };

makePanel('a14', Object.assign({}, aerialCommon, { smooth: aerialSmooth2014, pts: ptsA14, colors: colA14,
  showY: true, yWidth: 94, yTitle: 'Aerial Calls (Call min¹)', titlePad: 24 }));
makePanel('a15', Object.assign({}, aerialCommon, { smooth: aerialSmooth2015, pts: ptsA15, colors: colA15,
  showY: false }));
makePanel('b14', Object.assign({}, groundCommon, { smooth: groundSmooth2014, pts: gB14.pts, colors: gB14.col,
  showY: true, yWidth: 80, yTitle: 'Ground Calls', titlePad: 20 }));
makePanel('b15', Object.assign({}, groundCommon, { smooth: groundSmooth2015, pts: gB15.pts, colors: gB15.col,
  showY: false }));

// ---- colour bar legend ----
(function () {
  const lg = document.getElementById('legend');
  const barTop = 169, barH = 139, barLeft = 906, barW = 27;
  let html = `<div class="abs" style="left:904px; top:146px; font-size:17.5px; color:#1a1a1a;">density</div>`;
  html += `<div class="abs" style="left:${barLeft}px; top:${barTop}px; width:${barW}px; height:${barH}px;
           background:linear-gradient(to top, ${VIRIDIS.join(',')});"></div>`;
  densityTicks.forEach(v => {
    const y = barTop + barH - (v - densityLimits[0]) / (densityLimits[1] - densityLimits[0]) * barH;
    html += `<div class="abs" style="left:${barLeft}px; top:${y - 0.5}px; width:5px; height:1px; background:#fff;"></div>`;
    html += `<div class="abs" style="left:${barLeft + barW - 5}px; top:${y - 0.5}px; width:5px; height:1px; background:#fff;"></div>`;
    html += `<div class="abs" style="left:941px; top:${y - 8}px; font-size:13px; color:#4d4d4d;">${v.toFixed(2)}</div>`;
  });
  lg.innerHTML = html;
})();
</script>
</body>
</html>
